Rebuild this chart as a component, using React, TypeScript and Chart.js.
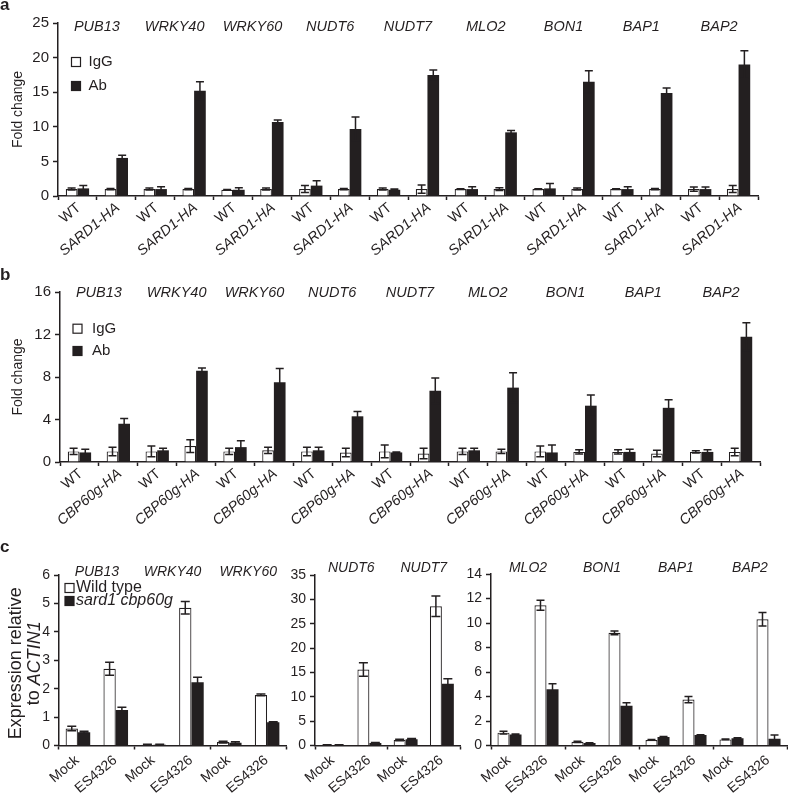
import React, { useEffect, useRef } from 'react';
import { Chart, registerables } from 'chart.js';

Chart.register(...registerables);

const INK = '#231f20';
const WHITE = '#ffffff';
const FONT = '"Liberation Sans", Arial, Helvetica, sans-serif';

// ---------- Panel a ----------
const genesAB = ['PUB13', 'WRKY40', 'WRKY60', 'NUDT6', 'NUDT7', 'MLO2', 'BON1', 'BAP1', 'BAP2'];
const aLabels = ['WT', 'SARD1-HA', 'WT', 'SARD1-HA', 'WT', 'SARD1-HA', 'WT', 'SARD1-HA', 'WT', 'SARD1-HA', 'WT', 'SARD1-HA', 'WT', 'SARD1-HA', 'WT', 'SARD1-HA', 'WT', 'SARD1-HA'];
const aIgG = [1.0, 1.0, 1.0, 1.0, 0.9, 1.0, 1.0, 1.0, 1.0, 1.0, 1.0, 1.0, 1.0, 1.0, 1.0, 1.0, 1.0, 1.0];
const aIgGErr = [0.15, 0.1, 0.15, 0.1, 0.05, 0.15, 0.5, 0.1, 0.15, 0.6, 0.05, 0.2, 0.05, 0.15, 0.05, 0.1, 0.3, 0.5];
const aAb = [1.1, 5.5, 1.0, 15.2, 0.9, 10.7, 1.5, 9.7, 0.9, 17.5, 1.0, 9.2, 1.1, 16.5, 1.0, 14.9, 1.0, 19.0];
const aAbErr = [0.4, 0.4, 0.35, 1.3, 0.3, 0.3, 0.7, 1.7, 0.1, 0.7, 0.35, 0.25, 0.7, 1.6, 0.35, 0.7, 0.3, 2.0];

// ---------- Panel b ----------
const bLabels = ['WT', 'CBP60g-HA', 'WT', 'CBP60g-HA', 'WT', 'CBP60g-HA', 'WT', 'CBP60g-HA', 'WT', 'CBP60g-HA', 'WT', 'CBP60g-HA', 'WT', 'CBP60g-HA', 'WT', 'CBP60g-HA', 'WT', 'CBP60g-HA'];
const bIgG = [1.0, 1.0, 1.0, 1.5, 1.0, 1.1, 1.0, 0.9, 1.0, 0.8, 1.0, 1.0, 1.0, 0.95, 0.95, 0.8, 0.95, 0.95];
const bIgGErr = [0.3, 0.4, 0.5, 0.6, 0.3, 0.3, 0.4, 0.4, 0.6, 0.5, 0.3, 0.2, 0.5, 0.2, 0.2, 0.3, 0.1, 0.35];
const bAb = [0.9, 3.6, 1.1, 8.6, 1.4, 7.5, 1.1, 4.3, 0.9, 6.7, 1.1, 7.0, 0.9, 5.3, 0.95, 5.1, 0.95, 11.8];
const bAbErr = [0.3, 0.5, 0.2, 0.25, 0.6, 1.3, 0.3, 0.45, 0.05, 1.2, 0.2, 1.4, 0.7, 1.0, 0.25, 0.75, 0.2, 1.3];

// ---------- Panel c ----------
const c1Genes = ['PUB13', 'WRKY40', 'WRKY60'];
const c1Labels = ['Mock', 'ES4326', 'Mock', 'ES4326', 'Mock', 'ES4326'];
const c1WT = [0.6, 2.7, 0.03, 4.85, 0.12, 1.78];
const c1WTErr = [0.08, 0.23, 0.01, 0.22, 0.03, 0.03];
const c1Mut = [0.47, 1.25, 0.03, 2.23, 0.1, 0.82];
const c1MutErr = [0.03, 0.1, 0.01, 0.17, 0.03, 0.02];

const c2Genes = ['NUDT6', 'NUDT7'];
const c2Labels = ['Mock', 'ES4326', 'Mock', 'ES4326'];
const c2WT = [0.1, 15.6, 1.15, 28.6];
const c2WTErr = [0.05, 1.4, 0.15, 2.1];
const c2Mut = [0.1, 0.5, 1.3, 12.7];
const c2MutErr = [0.05, 0.1, 0.15, 1.0];

const c3Genes = ['MLO2', 'BON1', 'BAP1', 'BAP2'];
const c3Labels = ['Mock', 'ES4326', 'Mock', 'ES4326', 'Mock', 'ES4326', 'Mock', 'ES4326'];
const c3WT = [1.05, 11.45, 0.3, 9.2, 0.45, 3.75, 0.5, 10.3];
const c3WTErr = [0.12, 0.4, 0.05, 0.15, 0.03, 0.25, 0.03, 0.55];
const c3Mut = [0.9, 4.6, 0.2, 3.25, 0.7, 0.85, 0.6, 0.55];
const c3MutErr = [0.03, 0.45, 0.03, 0.25, 0.03, 0.03, 0.03, 0.3];

type Part = { t: string; italic?: boolean };
type Series = { label: string; data: number[]; err: number[]; fill: string; italic?: boolean };
type Spec = {
  key: string;
  x: number; y: number; w: number; h: number;
  axisW: number; axisH: number; padTop: number; padRight: number;
  labels: string[];
  series: Series[];
  yMax: number; yStep: number; yTickSize: number;
  xLab: { size: number; dx: number; dy: number; angle: number };
  catPct: number; tickEvery: number; cap: number;
  genes: string[]; geneDy: number; geneSize: number;
  legend: { x: number; rows: number[]; box: number; gap: number; size: number };
  letter?: { t: string; x: number; y: number };
  yTitle?: { lines: { parts: Part[]; x: number }[]; size: number; dy: number };
};

const xLabAB = { size: 14.5, dx: 1.5, dy: 10, angle: 40 };
const xLabC = { size: 14, dx: -0.5, dy: 13, angle: 40 };

const specs: Spec[] = [
  {
    key: 'a', x: 0, y: 0, w: 788, h: 265,
    axisW: 58, axisH: 69, padTop: 23, padRight: 30,
    labels: aLabels,
    series: [
      { label: 'IgG', data: aIgG, err: aIgGErr, fill: WHITE },
      { label: 'Ab', data: aAb, err: aAbErr, fill: INK },
    ],
    yMax: 25, yStep: 5, yTickSize: 15,
    xLab: xLabAB,
    catPct: 0.6, tickEvery: 1, cap: 8,
    genes: genesAB, geneDy: 3.5, geneSize: 14.5,
    legend: { x: 71.5, rows: [62, 86], box: 9, gap: 8, size: 15 },
    letter: { t: 'a', x: 0, y: 10 },
    yTitle: { lines: [{ parts: [{ t: 'Fold change' }], x: 18 }], size: 14, dy: 0 },
  },
  {
    key: 'b', x: 0, y: 265, w: 788, h: 270,
    axisW: 60, axisH: 73, padTop: 27, padRight: 28,
    labels: bLabels,
    series: [
      { label: 'IgG', data: bIgG, err: bIgGErr, fill: WHITE },
      { label: 'Ab', data: bAb, err: bAbErr, fill: INK },
    ],
    yMax: 16, yStep: 4, yTickSize: 15,
    xLab: xLabAB,
    catPct: 0.6, tickEvery: 1, cap: 8,
    genes: genesAB, geneDy: 1, geneSize: 14.5,
    legend: { x: 73, rows: [63.7, 86], box: 9, gap: 10, size: 15 },
    letter: { t: 'b', x: 0, y: 15 },
    yTitle: { lines: [{ parts: [{ t: 'Fold change' }], x: 18 }], size: 14, dy: 0 },
  },
  {
    key: 'c1', x: 0, y: 535, w: 300, h: 265,
    axisW: 59, axisH: 54.5, padTop: 40, padRight: 14,
    labels: c1Labels,
    series: [
      { label: 'Wild type', data: c1WT, err: c1WTErr, fill: WHITE },
      { label: 'sard1 cbp60g', data: c1Mut, err: c1MutErr, fill: INK, italic: true },
    ],
    yMax: 6, yStep: 1, yTickSize: 14,
    xLab: xLabC,
    catPct: 0.65, tickEvery: 2, cap: 9,
    genes: c1Genes, geneDy: -3, geneSize: 14,
    legend: { x: 65, rows: [53, 66], box: 9, gap: 2, size: 16 },
    letter: { t: 'c', x: 0, y: 17 },
    yTitle: {
      lines: [
        { parts: [{ t: 'Expression relative' }], x: 16.5 },
        { parts: [{ t: 'to ' }, { t: 'ACTIN1', italic: true }], x: 34.5 },
      ],
      size: 18, dy: 3,
    },
  },
  {
    key: 'c2', x: 280, y: 535, w: 190, h: 265,
    axisW: 35, axisH: 54.5, padTop: 40, padRight: 10,
    labels: c2Labels,
    series: [
      { label: 'Wild type', data: c2WT, err: c2WTErr, fill: WHITE },
      { label: 'sard1 cbp60g', data: c2Mut, err: c2MutErr, fill: INK, italic: true },
    ],
    yMax: 35, yStep: 5, yTickSize: 14,
    xLab: xLabC,
    catPct: 0.66, tickEvery: 2, cap: 9,
    genes: c2Genes, geneDy: -7, geneSize: 14,
    legend: { x: 0, rows: [], box: 9, gap: 2, size: 16 },
  },
  {
    key: 'c3', x: 462, y: 535, w: 326, h: 265,
    axisW: 29, axisH: 54.5, padTop: 39, padRight: 1,
    labels: c3Labels,
    series: [
      { label: 'Wild type', data: c3WT, err: c3WTErr, fill: WHITE },
      { label: 'sard1 cbp60g', data: c3Mut, err: c3MutErr, fill: INK, italic: true },
    ],
    yMax: 14, yStep: 2, yTickSize: 14,
    xLab: xLabC,
    catPct: 0.65, tickEvery: 2, cap: 8,
    genes: c3Genes, geneDy: -6, geneSize: 14,
    legend: { x: 0, rows: [], box: 9, gap: 2, size: 16 },
  },
];

function fontStr(size: number, italic?: boolean, bold?: boolean) {
  return `${italic ? 'italic ' : ''}${bold ? 'bold ' : ''}${size}px ${FONT}`;
}

function overlayPlugin(spec: Spec) {
  return {
    id: 'overlay_' + spec.key,
    afterDatasetsDraw(chart: any) {
      const ctx = chart.ctx;
      const ys = chart.scales.y;
      ctx.save();
      ctx.strokeStyle = INK;
      ctx.lineWidth = 1.5;
      spec.series.forEach((s, di) => {
        const meta = chart.getDatasetMeta(di);
        meta.data.forEach((el: any, j: number) => {
          const v = s.data[j];
          const e = s.err[j];
          if (!e) return;
          const x = el.x;
          const yT = ys.getPixelForValue(v + e);
          const yB = ys.getPixelForValue(Math.max(0, v - e));
          const c = spec.cap / 2;
          ctx.beginPath();
          ctx.moveTo(x, yB);
          ctx.lineTo(x, yT);
          ctx.moveTo(x - c, yT);
          ctx.lineTo(x + c, yT);
          ctx.moveTo(x - c, yB);
          ctx.lineTo(x + c, yB);
          ctx.stroke();
        });
      });
      ctx.restore();
    },
    afterDraw(chart: any) {
      const ctx = chart.ctx;
      const xs = chart.scales.x;
      const area = chart.chartArea;
      ctx.save();
      ctx.fillStyle = INK;
      // rotated category labels, positioned from the category scale
      spec.labels.forEach((lab, i) => {
        const cx = xs.getPixelForValue(i);
        ctx.save();
        ctx.translate(cx + spec.xLab.dx, area.bottom + spec.xLab.dy);
        ctx.rotate((-spec.xLab.angle * Math.PI) / 180);
        ctx.font = fontStr(spec.xLab.size, /-HA$/.test(lab));
        ctx.textAlign = 'right';
        ctx.textBaseline = 'middle';
        ctx.fillText(lab, 0, 0);
        ctx.restore();
      });
      // gene names
      ctx.font = fontStr(spec.geneSize, true);
      ctx.textAlign = 'center';
      ctx.textBaseline = 'middle';
      spec.genes.forEach((g, i) => {
        const cx = (xs.getPixelForValue(2 * i) + xs.getPixelForValue(2 * i + 1)) / 2;
        ctx.fillText(g, cx, area.top + spec.geneDy);
      });
      // legend
      const L = spec.legend;
      L.rows.forEach((cy, i) => {
        const s = spec.series[i];
        ctx.fillStyle = s.fill;
        ctx.fillRect(L.x, cy - L.box / 2, L.box, L.box);
        ctx.strokeStyle = INK;
        ctx.lineWidth = 1.2;
        ctx.strokeRect(L.x, cy - L.box / 2, L.box, L.box);
        ctx.fillStyle = INK;
        ctx.font = fontStr(L.size, s.italic);
        ctx.textAlign = 'left';
        ctx.textBaseline = 'middle';
        ctx.fillText(s.label, L.x + L.box + L.gap, cy);
      });
      // y title
      if (spec.yTitle) {
        const T = spec.yTitle;
        const cy = (area.top + area.bottom) / 2 + T.dy;
        T.lines.forEach((line) => {
          ctx.save();
          ctx.translate(line.x, cy);
          ctx.rotate(-Math.PI / 2);
          ctx.textAlign = 'left';
          ctx.textBaseline = 'middle';
          let total = 0;
          line.parts.forEach((p) => {
            ctx.font = fontStr(T.size, p.italic);
            total += ctx.measureText(p.t).width;
          });
          let pos = -total / 2;
          line.parts.forEach((p) => {
            ctx.font = fontStr(T.size, p.italic);
            ctx.fillText(p.t, pos, 0);
            pos += ctx.measureText(p.t).width;
          });
          ctx.restore();
        });
      }
      // panel letter
      if (spec.letter) {
        ctx.font = fontStr(17, false, true);
        ctx.textAlign = 'left';
        ctx.textBaseline = 'alphabetic';
        ctx.fillText(spec.letter.t, spec.letter.x, spec.letter.y);
      }
      ctx.restore();
    },
  };
}

function buildChart(canvas: HTMLCanvasElement, spec: Spec) {
  return new Chart(canvas, {
    type: 'bar',
    data: {
      labels: spec.labels,
      datasets: spec.series.map((s) => ({
        label: s.label,
        data: s.data,
        backgroundColor: s.fill,
        borderColor: INK,
        borderWidth: s.fill === WHITE ? 1.2 : 0,
        categoryPercentage: spec.catPct,
        barPercentage: 1,
      })),
    },
    options: {
      animation: false,
      responsive: false,
      devicePixelRatio: 1,
      events: [],
      layout: { padding: { top: spec.padTop, right: spec.padRight, left: 0, bottom: 0 } },
      plugins: { legend: { display: false }, tooltip: { enabled: false }, title: { display: false } },
      scales: {
        x: {
          type: 'category',
          offset: true,
          grid: {
            display: true,
            drawOnChartArea: false,
            drawTicks: true,
            tickLength: 4,
            tickWidth: 1.5,
            offset: true,
            tickColor: (c: any) =>
              c.index === undefined || c.index % spec.tickEvery === 0 ? INK : 'rgba(0,0,0,0)',
          },
          border: { display: true, color: INK, width: 1.5 },
          ticks: { display: false, autoSkip: false },
          afterFit: (s: any) => {
            s.height = spec.axisH;
            s.paddingLeft = 0;
            s.paddingRight = 0;
          },
        },
        y: {
          min: 0,
          max: spec.yMax,
          grid: {
            display: true,
            drawOnChartArea: false,
            drawTicks: true,
            tickLength: 5,
            tickWidth: 1.5,
            tickColor: INK,
          },
          border: { display: true, color: INK, width: 1.5 },
          ticks: {
            stepSize: spec.yStep,
            padding: 4,
            color: INK,
            font: { family: FONT, size: spec.yTickSize },
          },
          afterFit: (s: any) => {
            s.width = spec.axisW;
            s.paddingTop = 0;
            s.paddingBottom = 0;
          },
        },
      },
    } as any,
    plugins: [overlayPlugin(spec)],
  });
}

function Panel({ spec }: { spec: Spec }) {
  const ref = useRef<HTMLCanvasElement | null>(null);
  useEffect(() => {
    if (!ref.current) return;
    const chart = buildChart(ref.current, spec);
    return () => chart.destroy();
  }, [spec]);
  return (
    <canvas
      ref={ref}
      width={spec.w}
      height={spec.h}
      style={{ position: 'absolute', left: spec.x, top: spec.y, width: spec.w, height: spec.h }}
    />
  );
}

export default function App() {
  return (
    <div style={{ position: 'absolute', left: 0, top: 0, width: 788, height: 800, background: '#ffffff', overflow: 'hidden' }}>
      {specs.map((s) => (
        <Panel key={s.key} spec={s} />
      ))}
    </div>
  );
}
